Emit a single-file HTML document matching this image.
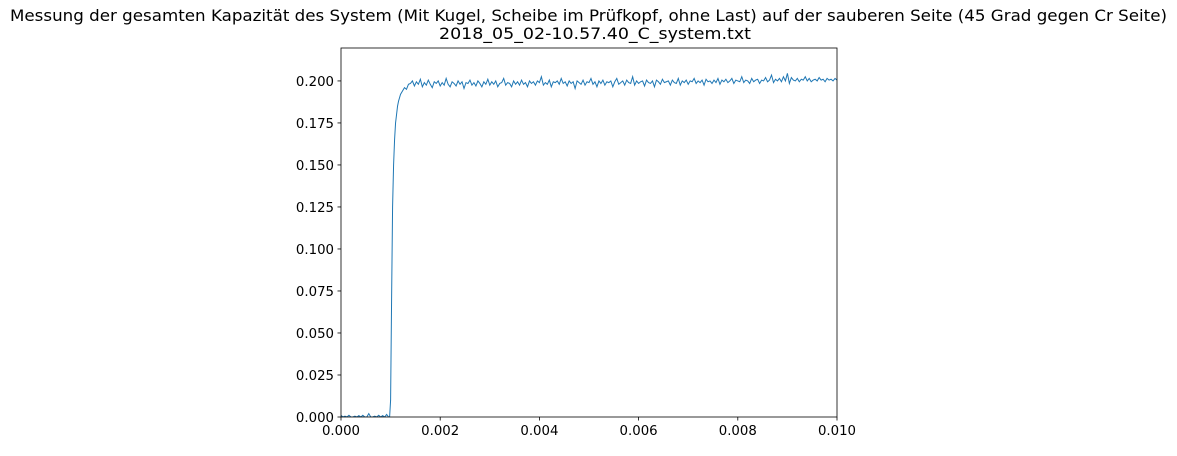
<!DOCTYPE html>
<html><head><meta charset="utf-8"><style>
body{margin:0;background:#fff;width:1177px;height:451px;overflow:hidden}
svg text{font-family:"DejaVu Sans","Liberation Sans",sans-serif;fill:#000}
</style></head><body>
<svg id="chart" width="1177" height="451" xmlns="http://www.w3.org/2000/svg">
<text x="588.5" y="21" font-size="16" text-anchor="middle" textLength="1157" lengthAdjust="spacingAndGlyphs">Messung der gesamten Kapazität des System (Mit Kugel, Scheibe im Prüfkopf, ohne Last) auf der sauberen Seite (45 Grad gegen Cr Seite)</text>
<text x="595" y="39" font-size="16" text-anchor="middle" textLength="312" lengthAdjust="spacingAndGlyphs">2018_05_02-10.57.40_C_system.txt</text>
<g id="plot"></g>
</svg>
<script>
const xTicks=[0,0.002,0.004,0.006,0.008,0.010];
const xTickLabels=["0.000","0.002","0.004","0.006","0.008","0.010"];
const yTicks=[0,0.025,0.05,0.075,0.1,0.125,0.15,0.175,0.2];
const yTickLabels=["0.000","0.025","0.050","0.075","0.100","0.125","0.150","0.175","0.200"];
const baseX=[0,0.00004,0.00008,0.00012,0.00016,0.0002,0.00024,0.00028,0.00032,0.00036,0.0004,0.00044,0.00048,0.00052,0.00056,0.0006,0.00064,0.00068,0.00072,0.00076,0.0008,0.00084,0.00088,0.00092,0.00096,0.00098];
const baseY=[0.001,0,0.0005,0,0.001,0,0,0.0005,0,0.0008,0,0.001,0,0,0.002,0,0,0.0005,0,0.001,0,0.0008,0,0.0015,0,0];
const riseX=[0.001,0.00102,0.00104,0.00106,0.00108,0.0011,0.00112,0.00114,0.00116,0.00118,0.0012,0.00124,0.00128,0.00132,0.00136];
const riseY=[0.01,0.07,0.125,0.15,0.165,0.175,0.18,0.185,0.188,0.19,0.192,0.194,0.196,0.195,0.198];
const plateauStart=0.0014, plateauStep=0.00004;
const plateauY=[
0.1985,0.2,0.197,0.1995,0.198,0.201,0.1965,0.199,0.1975,0.2005,0.198,0.196,0.1995,0.1985,0.2,0.197,0.199,0.1975,0.2015,0.198,
0.1965,0.1995,0.1985,0.197,0.2,0.198,0.1995,0.1955,0.199,0.1985,0.2005,0.1975,0.199,0.197,0.2,0.1985,0.1965,0.1995,0.198,0.201,
0.1975,0.1995,0.198,0.2,0.1965,0.1985,0.199,0.2015,0.1975,0.199,0.1985,0.1965,0.2,0.198,0.1995,0.1975,0.2005,0.198,0.199,0.1965,
0.2,0.1985,0.1995,0.1975,0.2,0.199,0.2025,0.1975,0.199,0.198,0.2005,0.1965,0.1995,0.199,0.2,0.198,0.2015,0.1985,0.1995,0.197,
0.2,0.1985,0.1995,0.1955,0.2,0.199,0.198,0.2005,0.1975,0.1995,0.199,0.2015,0.198,0.1995,0.1965,0.2,0.1985,0.2005,0.1975,0.1995,
0.199,0.2,0.1965,0.1995,0.2015,0.198,0.199,0.2,0.1975,0.2005,0.199,0.1985,0.2025,0.1975,0.2,0.1985,0.1995,0.2,0.197,0.2005,
0.199,0.1985,0.2,0.1965,0.2005,0.1995,0.198,0.201,0.199,0.1995,0.2,0.1975,0.2005,0.199,0.1985,0.2015,0.1975,0.2,0.199,0.2005,
0.198,0.2,0.1995,0.2015,0.1985,0.2,0.199,0.2005,0.1975,0.201,0.1995,0.2,0.1985,0.2005,0.199,0.2015,0.198,0.2005,0.1995,0.201,
0.199,0.2,0.2015,0.1985,0.2005,0.2,0.1995,0.2025,0.199,0.2005,0.2,0.1985,0.2015,0.1995,0.2005,0.201,0.1985,0.2005,0.2,0.202,
0.1995,0.2005,0.2035,0.199,0.201,0.2,0.2015,0.1995,0.2025,0.2,0.2045,0.1985,0.202,0.2005,0.2,0.2015,0.1995,0.201,0.2005,0.2025,
0.2,0.2015,0.1995,0.2005,0.201,0.2,0.202,0.2005,0.201,0.1995,0.2015,0.2005,0.201,0.2,0.2015,0.2005];
const L=341,R=837,T=48,B=417,yMax=0.2196;
const X=v=>L+v/0.01*(R-L);
const Y=v=>B-v/yMax*(B-T);
const NS="http://www.w3.org/2000/svg";
const g=document.getElementById('plot');
function mk(tag,attrs){const e=document.createElementNS(NS,tag);for(const k in attrs)e.setAttribute(k,attrs[k]);g.appendChild(e);return e;}
const clip=document.createElementNS(NS,'clipPath');clip.setAttribute('id','c');
const cr=document.createElementNS(NS,'rect');cr.setAttribute('x',L);cr.setAttribute('y',T);cr.setAttribute('width',R-L);cr.setAttribute('height',B-T);
clip.appendChild(cr);g.appendChild(clip);
let pts=[];
baseX.forEach((x,i)=>pts.push([x,baseY[i]]));
riseX.forEach((x,i)=>pts.push([x,riseY[i]]));
plateauY.forEach((y,i)=>pts.push([plateauStart+i*plateauStep,y]));
const line=mk('polyline',{points:pts.map(p=>X(p[0]).toFixed(2)+','+Y(p[1]).toFixed(2)).join(' '),fill:'none',stroke:'#1f77b4','stroke-width':1,'clip-path':'url(#c)'});


const frame=mk('rect',{x:L,y:T,width:R-L,height:B-T,fill:'none',stroke:'#000','stroke-width':0.8});


xTicks.forEach((v,i)=>{
 const t=mk('line',{x1:X(v),x2:X(v),y1:B,y2:B+3.5,stroke:'#000','stroke-width':0.8});
 
 
 const l=mk('text',{x:X(v),y:B+18,'font-size':13.3,'text-anchor':'middle'});l.textContent=xTickLabels[i];
 
 
});
yTicks.forEach((v,i)=>{
 const t=mk('line',{x1:L-3.5,x2:L,y1:Y(v),y2:Y(v),stroke:'#000','stroke-width':0.8});
 
 
 const l=mk('text',{x:L-7,y:Y(v)+5,'font-size':13.3,'text-anchor':'end'});l.textContent=yTickLabels[i];
 
 
});
</script>
</body></html>
